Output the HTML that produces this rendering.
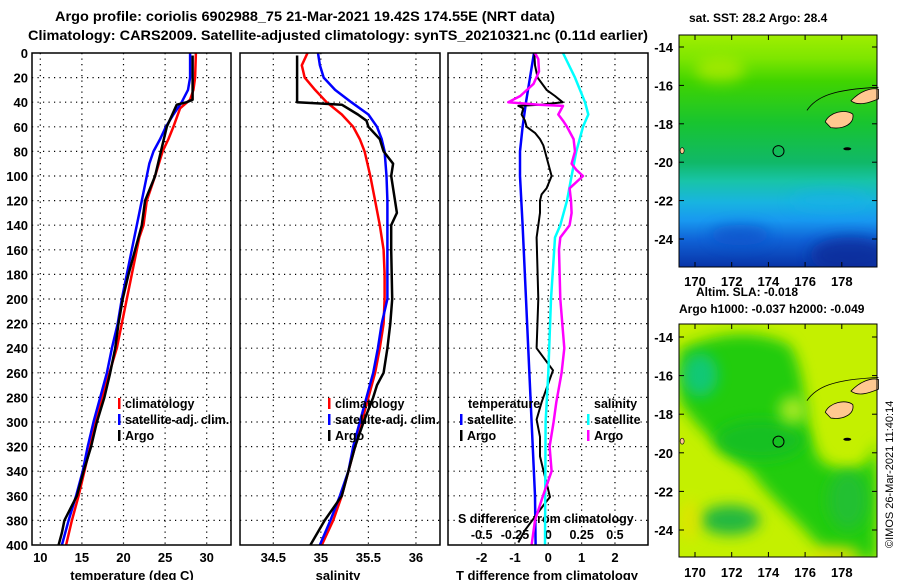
<!DOCTYPE html>
<html><head><meta charset="utf-8">
<style>
html,body{margin:0;padding:0;background:#fff;}
svg{display:block;font-family:"Liberation Sans",Arial,sans-serif;font-weight:bold;}
</style></head>
<body>
<svg id="chart" width="900" height="580" viewBox="0 0 900 580" xmlns="http://www.w3.org/2000/svg">
<defs>
<linearGradient id="sstGrad" x1="0" y1="0" x2="0" y2="1">
<stop offset="0" stop-color="#a0ee00"/>
<stop offset="0.1" stop-color="#7ee600"/>
<stop offset="0.2" stop-color="#40d400"/>
<stop offset="0.38" stop-color="#18c430"/>
<stop offset="0.55" stop-color="#10b868"/>
<stop offset="0.63" stop-color="#18c4a8"/>
<stop offset="0.72" stop-color="#18b4e0"/>
<stop offset="0.8" stop-color="#1898f0"/>
<stop offset="0.88" stop-color="#1064d8"/>
<stop offset="1" stop-color="#0834a8"/>
</linearGradient>
<filter id="blur6" filterUnits="userSpaceOnUse" x="600" y="0" width="300" height="580"><feGaussianBlur stdDeviation="7"/></filter>
<clipPath id="m1clip"><rect x="679" y="35" width="198" height="232"/></clipPath>
<clipPath id="m2clip"><rect x="679" y="324" width="198" height="233"/></clipPath>
</defs>
<text x="55" y="21" font-size="14" textLength="500" lengthAdjust="spacingAndGlyphs">Argo profile: coriolis 6902988_75 21-Mar-2021 19.42S 174.55E (NRT data)</text>
<text x="28" y="40" font-size="14" textLength="620" lengthAdjust="spacingAndGlyphs">Climatology: CARS2009. Satellite-adjusted climatology: synTS_20210321.nc (0.11d earlier)</text>
<g id="panels"></g>
<g id="maps">
 <g clip-path="url(#m1clip)">
  <rect x="679" y="35" width="198" height="232" fill="url(#sstGrad)"/>
  <ellipse cx="720" cy="70" rx="25" ry="12" fill="#c8f000" opacity="0.6" filter="url(#blur6)"/>
  <ellipse cx="850" cy="255" rx="40" ry="18" fill="#082a98" opacity="0.8" filter="url(#blur6)"/>
  <ellipse cx="740" cy="235" rx="30" ry="10" fill="#1050c8" opacity="0.7" filter="url(#blur6)"/>
  <ellipse cx="830" cy="200" rx="40" ry="10" fill="#18b0e8" opacity="0.5" filter="url(#blur6)"/>
 </g>
 <g clip-path="url(#m2clip)">
  <rect x="679" y="324" width="198" height="233" fill="#c4f000"/>
  <path d="M679,350 C720,330 760,330 790,345 C810,380 800,420 820,460 C850,480 870,470 877,440 L877,560 L830,560 C800,520 770,500 750,470 C720,450 690,420 679,400 Z" fill="#20cc10" filter="url(#blur6)"/>
  <ellipse cx="760" cy="440" rx="45" ry="20" fill="#18c020" filter="url(#blur6)"/>
  <ellipse cx="700" cy="375" rx="18" ry="22" fill="#10c890" opacity="0.8" filter="url(#blur6)"/>
  <ellipse cx="730" cy="520" rx="30" ry="15" fill="#20b840" filter="url(#blur6)"/>
  <ellipse cx="848" cy="500" rx="20" ry="30" fill="#20c030" filter="url(#blur6)"/>
  <ellipse cx="793" cy="410" rx="14" ry="14" fill="#a0e820" filter="url(#blur6)"/>
  <ellipse cx="835" cy="555" rx="25" ry="8" fill="#e8e000" filter="url(#blur6)"/>
  <ellipse cx="690" cy="520" rx="10" ry="20" fill="#e8e000" opacity="0.7" filter="url(#blur6)"/>
 </g>
</g>
<text x="689" y="22" font-size="12">sat. SST: 28.2 Argo: 28.4</text>
<text x="696" y="296" font-size="12">Altim. SLA: -0.018</text>
<text x="679" y="313" font-size="12">Argo h1000: -0.037 h2000: -0.049</text>
<text transform="translate(893,548) rotate(-90)" font-size="11" font-weight="normal">©IMOS 26-Mar-2021 11:40:14</text>
</svg>
<script>
// ---------- data ----------
// Panel 1: temperature (deg C)
const tClimDepth = [0,20,30,38,45,60,70,80,100,120,140,150,160,180,200,220,240,260,280,300,320,340,360,380,400];
const tClim      = [28.7,28.6,28.4,28.0,26.8,26.0,25.4,24.7,23.8,22.8,22.4,21.9,21.6,21.0,20.4,19.8,19.2,18.3,17.4,16.6,16.0,15.3,14.6,13.8,13.1];
const tSatDepth  = [0,20,30,40,50,60,70,80,90,100,120,140,150,160,180,200,220,240,260,280,300,320,340,360,380,400];
const tSat       = [28.0,28.0,27.75,27.0,26.0,25.1,24.4,23.6,23.1,22.8,22.2,21.6,21.3,21.0,20.4,19.8,19.3,18.6,18.0,17.2,16.4,15.7,15.1,14.3,13.4,12.6];
const tArgoDepth = [2,20,38,40,42,45,60,80,100,120,140,150,160,180,200,220,240,260,280,300,320,340,360,380,390,400];
const tArgo      = [28.3,28.3,28.3,27.6,26.4,26.2,25.2,24.5,23.8,22.6,22.2,21.8,21.4,20.6,19.9,19.4,19.0,18.4,17.7,16.8,16.1,15.2,14.4,12.9,12.6,12.2];
// Panel 2: salinity
const sClimDepth = [0,10,20,30,40,50,60,70,80,100,120,140,160,180,200,220,240,260,280,300,320,340,360,380,400];
const sClim      = [34.86,34.80,34.83,34.94,35.06,35.22,35.34,35.41,35.46,35.52,35.57,35.62,35.66,35.67,35.67,35.66,35.62,35.57,35.50,35.43,35.36,35.29,35.22,35.13,35.01];
const sSatDepth  = [0,10,20,30,40,50,60,70,80,100,120,200,220,240,260,280,300,320,340,360,380,400];
const sSat       = [34.97,34.99,35.03,35.15,35.32,35.50,35.59,35.64,35.67,35.69,35.70,35.70,35.64,35.60,35.55,35.48,35.41,35.34,35.29,35.20,35.10,34.99];
const sArgoDepth = [2,40,41,42,50,55,60,70,80,90,100,110,120,130,140,160,200,220,240,260,270,280,300,320,340,360,380,400];
const sArgo      = [34.75,34.75,34.97,35.22,35.39,35.48,35.50,35.62,35.66,35.76,35.74,35.76,35.78,35.80,35.74,35.74,35.75,35.73,35.70,35.66,35.59,35.55,35.45,35.36,35.29,35.22,35.04,34.89];
// Panel 3: differences from climatology
const dTSatDepth = [0,20,40,60,80,100,140,200,300,360,400];
const dTSat      = [-0.43,-0.55,-0.67,-0.77,-0.85,-0.85,-0.77,-0.67,-0.5,-0.4,-0.38];
const dTArgoDepth= [0,10,20,30,35,40,42,43,45,50,55,60,65,70,75,80,90,100,110,115,120,130,140,150,200,240,258,284,298,312,328,339,361,366,377,388,398];
const dTArgo     = [-0.42,-0.4,-0.32,-0.05,0.2,0.43,-0.25,-0.9,-0.75,-0.8,-0.7,-0.65,-0.4,-0.25,-0.15,-0.1,0,0.1,-0.05,-0.2,-0.25,-0.25,-0.3,-0.35,-0.3,-0.35,0.14,-0.2,-0.35,-0.25,-0.25,-0.15,0.05,-0.1,-0.4,-0.7,-0.9];
const dSSatDepth = [0,20,40,50,60,80,100,120,140,150,200,260,300,400];
const dSSat      = [0.11,0.2,0.275,0.30,0.26,0.21,0.175,0.14,0.09,0.05,0.02,0,-0.02,-0.025];
const dSArgoDepth= [0,5,15,25,35,40,42,43,50,55,60,70,80,90,95,100,110,120,130,140,150,160,200,240,260,284,300,320,340,360,380,400];
const dSArgo     = [-0.1,-0.075,-0.07,-0.11,-0.21,-0.3,-0.07,0.11,0.075,0.11,0.14,0.19,0.2,0.175,0.21,0.26,0.16,0.17,0.175,0.16,0.09,0.08,0.09,0.12,0.1,0.06,0.04,0.01,0.025,-0.04,-0.1,-0.125];
// Tick labels
const depthTicks = [0,20,40,60,80,100,120,140,160,180,200,220,240,260,280,300,320,340,360,380,400];
const tTicks = [10,15,20,25,30];
const sTicks = [34.5,35,35.5,36];
const sTickLabels = ["34.5","35","35.5","36"];
const dTTicks = [-2,-1,0,1,2];
const dSTicks = [-0.5,-0.25,0,0.25,0.5];
const dSTickLabels = ["-0.5","-0.25","0","0.25","0.5"];
const latTicks = [-14,-16,-18,-20,-22,-24];
const lonTicks = [170,172,174,176,178];
const argoLat = -19.42, argoLon = 174.55;

// ---------- axes ----------
const TOP=53, BOT=545;
const yD = d => TOP + d*(BOT-TOP)/400;
const x1 = t => 40.3 + 8.32*(t-10);
const x2 = s => 273.3 + 95.1*(s-34.5);
const x3T = v => 548.3 + 33.33*v;
const x3S = v => 548.3 + 133.3*v;
const m1Y = lat => 47 + (-14-lat)*19.2;
const m2Y = lat => 337 + (-14-lat)*19.3;
const mX = lon => 695 + (lon-170)*18.35;

const NS="http://www.w3.org/2000/svg";
const svg=document.getElementById('chart');
const G=document.getElementById('panels');
function mk(tag,attrs,parent){const e=document.createElementNS(NS,tag);for(const k in attrs)e.setAttribute(k,attrs[k]);(parent||G).appendChild(e);return e;}
function txt(x,y,s,size,anchor,parent){const t=mk('text',{x:x,y:y,'font-size':size,'text-anchor':anchor||'start'},parent);t.textContent=s;return t;}

const panels=[{l:32,r:231,name:'temperature-panel'},{l:240,r:440,name:'salinity-panel'},{l:448,r:648,name:'difference-panel'}];
panels.forEach((p,i)=>{
  const g=mk('g',{});
  
  
  p.g=g;
  depthTicks.forEach(d=>{ if(d>0&&d<400){const l=mk('line',{x1:p.l,x2:p.r,y1:yD(d),y2:yD(d),stroke:'#000','stroke-width':1.2,'stroke-dasharray':'1.2,4.3'},g);
    
    }});
});
function vgrid(g,xs,labels,yLab){xs.forEach((x,k)=>{const l=mk('line',{x1:x,x2:x,y1:TOP,y2:BOT,stroke:'#000','stroke-width':1.2,'stroke-dasharray':'1.2,4.3'},g);
  
  
  const t=txt(x,yLab,labels[k],13,'middle',g);
  
  });}
vgrid(panels[0].g,tTicks.map(x1),tTicks.map(String),562);
vgrid(panels[1].g,sTicks.map(x2),sTickLabels,562);
vgrid(panels[2].g,dTTicks.map(x3T),dTTicks.map(String),562);
dSTicks.forEach((v,k)=>{const t=txt(x3S(v),539,dSTickLabels[k],12.5,'middle',panels[2].g);
  
  });
depthTicks.forEach(d=>{const t=txt(28,yD(d)+5,String(d),13,'end',panels[0].g);
  
  });
[['temperature (deg C)',132,'x-axis-title-temperature'],['salinity',338,'x-axis-title-salinity'],['T difference from climatology',547,'x-axis-title-t-diff']].forEach(a=>{
  const t=txt(a[1],580,a[0],13,'middle');
  
  });
const sdt=txt(458,523,'S difference from climatology',12.5,'start',panels[2].g);



function series(g,depths,vals,xf,color,w,name){
  let d='';
  depths.forEach((z,k)=>{d+=(k?'L':'M')+xf(vals[k]).toFixed(1)+','+yD(z).toFixed(1);});
  const p=mk('path',{d:d,fill:'none',stroke:color,'stroke-width':w,'stroke-linejoin':'round'},g);
  
  
}
series(panels[0].g,tClimDepth,tClim,x1,'#ff0000',2.5,'temperature-climatology-line');
series(panels[0].g,tSatDepth,tSat,x1,'#0000ff',2.5,'temperature-satellite-line');
series(panels[0].g,tArgoDepth,tArgo,x1,'#000000',2.5,'temperature-argo-line');
series(panels[1].g,sClimDepth,sClim,x2,'#ff0000',2.5,'salinity-climatology-line');
series(panels[1].g,sSatDepth,sSat,x2,'#0000ff',2.5,'salinity-satellite-line');
series(panels[1].g,sArgoDepth,sArgo,x2,'#000000',2.5,'salinity-argo-line');
series(panels[2].g,dTSatDepth,dTSat,x3T,'#0000ff',2.5,'t-diff-satellite-line');
series(panels[2].g,dTArgoDepth,dTArgo,x3T,'#000000',2,'t-diff-argo-line');
series(panels[2].g,dSSatDepth,dSSat,x3S,'#00ffff',2.5,'s-diff-satellite-line');
series(panels[2].g,dSArgoDepth,dSArgo,x3S,'#ff00ff',2.5,'s-diff-argo-line');

function legendEntry(g,x,y,color,label,name){
  const e=mk('g',{},g);
  
  
  if(color) mk('rect',{x:x,y:y-10,width:2.5,height:11,fill:color},e);
  txt(x+7,y,label,12.5,'start',e);
}
[[0,118],[1,328]].forEach(([i,x])=>{
  legendEntry(panels[i].g,x,408,'#ff0000','climatology','legend-climatology');
  legendEntry(panels[i].g,x,424,'#0000ff','satellite-adj. clim.','legend-satellite-adj-clim');
  legendEntry(panels[i].g,x,440,'#000000','Argo','legend-argo');
});
legendEntry(panels[2].g,461,408,null,'temperature','legend-temperature-header');
legendEntry(panels[2].g,460,424,'#0000ff','satellite','legend-t-satellite');
legendEntry(panels[2].g,460,440,'#000000','Argo','legend-t-argo');
legendEntry(panels[2].g,587,408,null,'salinity','legend-salinity-header');
legendEntry(panels[2].g,587,424,'#00ffff','satellite','legend-s-satellite');
legendEntry(panels[2].g,587,440,'#ff00ff','Argo','legend-s-argo');

panels.forEach(p=>{const r=mk('rect',{x:p.l,y:TOP,width:p.r-p.l,height:BOT-TOP,fill:'none',stroke:'#000','stroke-width':1.5},p.g);
  
  });

// ---------- maps ----------
function mapAxes(top,bot,yf,lonY,name){
  const g=mk('g',{},svg);
  
  
  mk('path',{d:`M${mX(177.1)},${yf(-17.9)} C${mX(177.3)},${yf(-17.4)} ${mX(178.2)},${yf(-17.2)} ${mX(178.6)},${yf(-17.5)} C${mX(178.7)},${yf(-18.0)} ${mX(178.1)},${yf(-18.3)} ${mX(177.4)},${yf(-18.2)} Z`,fill:'#ffc890',stroke:'#000','stroke-width':0.8},g);
  mk('path',{d:`M${mX(178.5)},${yf(-16.8)} C${mX(179)},${yf(-16.3)} ${mX(179.6)},${yf(-16.1)} ${mX(180)},${yf(-16.2)} L${mX(180)},${yf(-16.7)} C${mX(179.5)},${yf(-16.9)} ${mX(178.9)},${yf(-17.1)} ${mX(178.5)},${yf(-16.8)} Z`,fill:'#ffc890',stroke:'#000','stroke-width':0.8},g);
  mk('path',{d:`M${mX(176.1)},${yf(-17.3)} C${mX(176.6)},${yf(-16.6)} ${mX(177.5)},${yf(-16.2)} ${mX(180)},${yf(-16.1)}`,fill:'none',stroke:'#000','stroke-width':0.8},g);
  mk('ellipse',{cx:mX(169.3),cy:yf(-19.4),rx:2,ry:3,fill:'#ffc890',stroke:'#000','stroke-width':0.6},g);
  mk('ellipse',{cx:mX(178.3),cy:yf(-19.3),rx:4,ry:1.5,fill:'#000'},g);
  const c=mk('circle',{cx:mX(argoLon),cy:yf(argoLat),r:5.5,fill:'none',stroke:'#000','stroke-width':1},g);
  
  
  mk('rect',{x:679,y:top,width:198,height:bot-top,fill:'none',stroke:'#000','stroke-width':1},g);
  latTicks.forEach(l=>{const y=yf(l);
    mk('line',{x1:679,x2:684,y1:y,y2:y,stroke:'#000'},g);mk('line',{x1:872,x2:877,y1:y,y2:y,stroke:'#000'},g);
    const t=txt(673,y+5,String(l),13,'end',g);
    
    });
  lonTicks.forEach(l=>{const x=mX(l);
    mk('line',{x1:x,x2:x,y1:top,y2:top+5,stroke:'#000'},g);mk('line',{x1:x,x2:x,y1:bot-5,y2:bot,stroke:'#000'},g);
    const t=txt(x,lonY,String(l),13,'middle',g);
    
    });
}
mapAxes(35,267,m1Y,286,'sst-map-axes');
mapAxes(324,557,m2Y,577,'sla-map-axes');
</script>
</body></html>
